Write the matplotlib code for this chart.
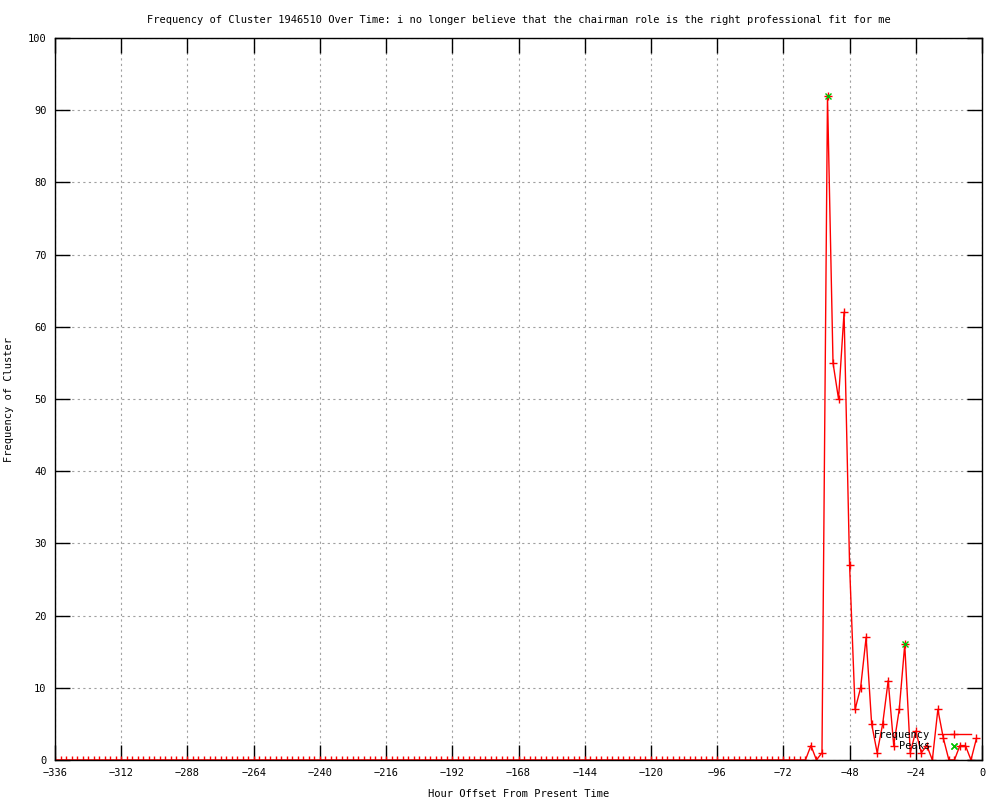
import matplotlib
matplotlib.use("Agg")
import matplotlib.pyplot as plt

# hour offsets, one sample every 2 hours
hours = list(range(-336, 0, 2))

# cluster frequency: flat zero up to -64, then the burst
counts = [0] * 137 + [2, 0, 1, 92, 55, 50, 62, 27, 7, 10, 17, 5, 1, 5, 11, 2,
                      7, 16, 1, 4, 1, 2, 0, 7, 3, 0, 0, 2, 2, 0, 3]

peak_hours = [-56, -28, -10]
peak_counts = [92, 16, 2]

x_ticks = list(range(-336, 1, 24))
y_ticks = list(range(0, 101, 10))

title = ("Frequency of Cluster 1946510 Over Time: i no longer believe that "
         "the chairman role is the right professional fit for me")

plt.rcParams['font.family'] = ['DejaVu Sans Mono']
plt.rcParams['font.size'] = 7.5

fig = plt.figure(figsize=(10, 8), dpi=100)
ax = fig.add_axes([0.055, 0.05, 0.927, 0.9025])

ax.plot(hours, counts, color='#ff0000', lw=1, marker='+', ms=6, mew=1,
        label='Frequency')
ax.plot(peak_hours, peak_counts, ls='none', color='#00c000', marker='x',
        ms=5, mew=1, label='Peaks')

ax.set_xlim(-336, 0)
ax.set_ylim(0, 100)
ax.set_xticks(x_ticks)
ax.set_yticks(y_ticks)
ax.grid(True, color='#a0a0a0', ls=(0, (2, 3)), lw=0.8)
ax.tick_params(direction='in', length=11, width=1, top=True, right=True,
               labelsize=7.5, pad=6)
for s in ax.spines.values():
    s.set_linewidth(1)

ax.set_title(title, fontsize=7.5, pad=11)
ax.set_xlabel("Hour Offset From Present Time", labelpad=8)
ax.set_ylabel("Frequency of Cluster", labelpad=10)

ax.legend(loc='lower right', bbox_to_anchor=(0.988, 0.012), frameon=False,
          markerfirst=False, handlelength=3.2, handletextpad=0.7,
          labelspacing=0.15, borderpad=0, borderaxespad=0, fontsize=7.5)

fig.savefig("out.png", dpi=100)
